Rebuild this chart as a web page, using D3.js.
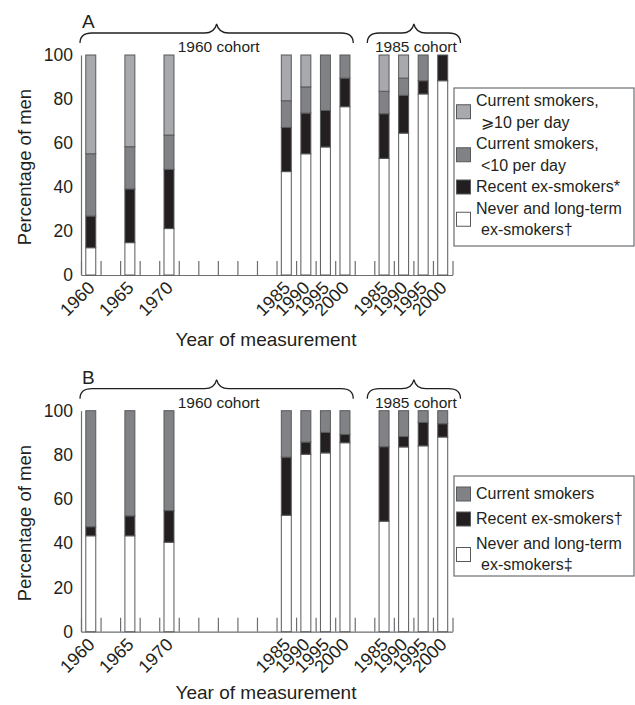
<!DOCTYPE html>
<html><head><meta charset="utf-8">
<script src="https://cdn.jsdelivr.net/npm/d3@7"></script>
<style>
body{margin:0;background:#fff}
text{font-family:"Liberation Sans",Arial,sans-serif;fill:#231f20}
</style>
</head><body><svg id="c" width="635" height="705"></svg>
<script>
// ---- categories ----
const slots = ["1960","g1","1965","g2","1970","g3","g4","g5","g6","g7","1985a","1990a","1995a","2000a","g8","1985b","1990b","1995b","2000b"];
const measured = ["1960","1965","1970","1985a","1990a","1995a","2000a","1985b","1990b","1995b","2000b"];
const yearLabels = ["1960","1965","1970","1985","1990","1995","2000","1985","1990","1995","2000"];
const cohortNames = ["1960 cohort","1985 cohort"];
const cohortFrom = ["1960","1985b"];
const cohortTo = ["2000a","2000b"];
const yTicks = [0,20,40,60,80,100];

// ---- panel A values (% of men) ----
const aNever  = [12.4, 14.7, 21.1, 47.0, 55.1, 58.2, 76.5, 53.0, 64.5, 82.3, 88.3];
const aRecent = [14.4, 24.4, 26.9, 20.1, 18.5, 16.6, 13.0, 20.3, 17.2,  6.0, 11.7];
const aLt10   = [28.3, 19.2, 15.6, 12.1, 11.9, 25.2, 10.5, 10.2,  7.8, 11.7,  0.0];
const aGe10   = [44.9, 41.7, 36.4, 20.8, 14.5,  0.0,  0.0, 16.5, 10.5,  0.0,  0.0];
const aLegendLines = [["Current smokers,","\u2A7E10 per day"],["Current smokers,","<10 per day"],["Recent ex-smokers*"],["Never and long-term","ex-smokers\u2020"]];

// ---- panel B values (% of men) ----
const bNever   = [43.4, 43.4, 40.5, 52.7, 80.3, 80.9, 85.5, 50.0, 83.6, 84.1, 88.1];
const bRecent  = [ 4.1,  9.0, 14.3, 26.3,  5.5,  9.3,  3.8, 33.7,  4.7, 10.6,  6.0];
const bCurrent = [52.5, 47.6, 45.2, 21.0, 14.2,  9.8, 10.7, 16.3, 11.7,  5.3,  5.9];
const bLegendLines = [["Current smokers"],["Recent ex-smokers\u2020"],["Never and long-term","ex-smokers\u2021"]];

const cLight = "#a7a9ac", cMid = "#808285", cBlack = "#231f20", cWhite = "#ffffff";
const strokeC = "#58595b";

const svg = d3.select("#c");

function panel(cfg){
  const g = svg.append("g");
  const y = d3.scaleLinear().domain([0,100]).range([cfg.bottom, cfg.top]);
  const x = d3.scaleBand().domain(slots).range([81, 452.5]);
  const bw = x.bandwidth();
  const barW = bw * 0.51;

  const rows = measured.map((m,i)=>{
    const o = {slot:m};
    cfg.keys.forEach((k,j)=>{ o[k] = cfg.series[j][i]; });
    return o;
  });
  const stacked = d3.stack().keys(cfg.keys)(rows);

  // axes
  const idx = d3.scaleLinear().domain([0, slots.length]).range([81, 452.5]);
  const xa = g.append("g").attr("transform",`translate(0,${cfg.bottom})`)
    .call(d3.axisBottom(idx).tickValues(d3.range(slots.length+1)).tickSize(-14).tickSizeOuter(0).tickFormat(""));
  xa.selectAll("path,line").attr("stroke","#6d6e71").attr("stroke-width",1.2);

  const ya = g.append("g").attr("transform",`translate(81,0)`)
    .call(d3.axisLeft(y).tickValues(yTicks).tickSize(0).tickSizeOuter(0).tickPadding(8));
  ya.select("path").attr("stroke","#6d6e71").attr("stroke-width",1.2);
  ya.selectAll("text").attr("font-size",17.5).attr("font-family","Liberation Sans, Arial, sans-serif").attr("fill","#231f20");

  // bars
  stacked.forEach((s,j)=>{
    g.append("g").selectAll("rect").data(s.filter(d=>d[1]-d[0]>0)).join("rect")
      .attr("x", d=>x(d.data.slot) + (bw-barW)/2)
      .attr("width", barW)
      .attr("y", d=>y(d[1]))
      .attr("height", d=>y(d[0])-y(d[1]))
      .attr("fill", cfg.colors[j])
      .attr("stroke", strokeC).attr("stroke-width",1);
  });

  // rotated tick labels
  g.append("g").selectAll("text").data(measured).join("text")
    .attr("transform",(d)=>`translate(${x(d)+bw/2+5},${cfg.bottom+14}) rotate(-45)`)
    .attr("text-anchor","end")
    .attr("font-size",18)
    .text((d,i)=>yearLabels[i]);

  // titles
  g.append("text").attr("x",266).attr("y",cfg.bottom+cfg.xTitleOff).attr("text-anchor","middle")
    .attr("font-size",19).text("Year of measurement");
  g.append("text").attr("transform",`translate(31,${(cfg.top+cfg.bottom)/2 + 2}) rotate(-90)`)
    .attr("text-anchor","middle").attr("font-size",18.5).text("Percentage of men");
  g.append("text").attr("x",82).attr("y",cfg.top-27).attr("font-size",19).text(cfg.letter);

  // braces
  cohortNames.forEach((name,i)=>{
    const x1 = i===0 ? x(cohortFrom[i]) - 1 : x(cohortFrom[i]) - 7;
    const x2 = i===0 ? x(cohortTo[i]) + bw - 1.5 : x(cohortTo[i]) + bw + 8;
    const pk = (x1+x2)/2;
    const yb = cfg.top - 12, yh = yb - 10, yp = yb - 19;
    const r = 12;
    const p = `M${x1},${yb} Q${x1},${yh} ${x1+r},${yh} L${pk-r},${yh} Q${pk-2},${yh} ${pk},${yp} Q${pk+2},${yh} ${pk+r},${yh} L${x2-r},${yh} Q${x2},${yh} ${x2},${yb}`;
    g.append("path").attr("d",p).attr("fill","none").attr("stroke","#231f20").attr("stroke-width",1.3);
    g.append("text").attr("x",pk+2).attr("y",cfg.top-3).attr("text-anchor","middle").attr("font-size",15.5).text(name);
  });

  // legend
  const L = cfg.legend;
  g.append("rect").attr("x",454).attr("y",L.top).attr("width",180).attr("height",L.height)
    .attr("fill","none").attr("stroke","#6d6e71").attr("stroke-width",1.2);
  let base = L.first;
  L.lines.forEach((lines,i)=>{
    const b0 = base;
    lines.forEach((t,k)=>{
      g.append("text").attr("x", k===0 ? 476 : 481).attr("y", base).attr("font-size",16).text(t);
      if (k < lines.length-1) base += L.lineGap;
    });
    const center = (b0 + base)/2 - 5;
    g.append("rect").attr("x",456.5).attr("y",center-7).attr("width",14).attr("height",14)
      .attr("fill",L.colors[i]).attr("stroke",strokeC).attr("stroke-width",1);
    base += L.itemGap;
  });
}

panel({
  top:55, bottom:275, letter:"A", xTitleOff:71,
  keys:["never","recent","lt10","ge10"],
  series:[aNever,aRecent,aLt10,aGe10],
  colors:[cWhite,cBlack,cMid,cLight],
  legend:{top:88, height:158, first:106, lineGap:21.5, itemGap:21.5, lines:aLegendLines, colors:[cLight,cMid,cBlack,cWhite]}
});
panel({
  top:410.7, bottom:631.7, letter:"B", xTitleOff:67,
  keys:["never","recent","current"],
  series:[bNever,bRecent,bCurrent],
  colors:[cWhite,cBlack,cMid],
  legend:{top:476, height:100, first:499, lineGap:21, itemGap:25, lines:bLegendLines, colors:[cMid,cBlack,cWhite]}
});
</script>
</body></html>
